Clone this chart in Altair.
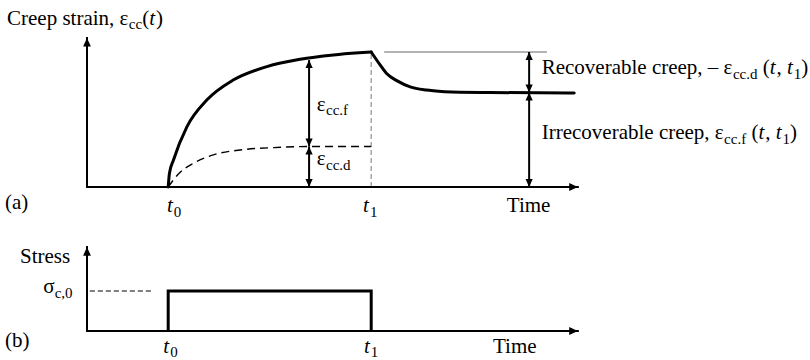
import altair as alt
import pandas as pd

# ---------------------------------------------------------------------------
# Values (time in arbitrary units, strain / stress in arbitrary units)
# ---------------------------------------------------------------------------
T0, T1 = 2.0, 7.0          # load applied at t0, removed at t1
T_AXIS_END = 12.09         # tip of the time-axis arrow
STRAIN_AXIS_TOP = 5.52     # tip of the strain-axis arrow
STRESS_AXIS_TOP = 2.1      # tip of the stress-axis arrow

# total creep strain while the stress is held (t0 -> t1)
load_t = [2.0, 2.03, 2.13, 2.46, 2.95, 3.60, 4.43, 5.25, 6.07, 6.7, 7.0]
load_v = [0.0, 0.5, 1.0, 2.23, 3.22, 3.96, 4.46, 4.73, 4.89, 4.97, 5.0]
# recovery after unloading (t > t1)
unload_t = [7.0, 7.22, 7.38, 7.63, 7.96, 8.37, 8.81, 9.93, 12.0]
unload_v = [5.0, 4.52, 4.20, 3.94, 3.71, 3.59, 3.53, 3.50, 3.48]
# delayed elastic (recoverable) component
delayed_t = [2.0, 2.27, 2.62, 3.11, 3.77, 4.59, 5.49, 7.0]
delayed_v = [0.0, 0.51, 0.88, 1.19, 1.37, 1.46, 1.50, 1.50]

EPS_T1 = 5.0       # total creep at t1
EPS_D = 1.5        # delayed (recoverable) creep
EPS_F = 3.5        # flow (irrecoverable) creep
ARROW_MID_T = 5.47     # position of the eps_cc.f / eps_cc.d dimension arrows
ARROW_MID_TOP = 4.7
ARROW_RIGHT_T = 10.89  # position of the recoverable / irrecoverable arrows
GUIDE_T = [7.32, 11.33]  # grey reference line at the peak level

# stress history
stress_t = [T0, T0, T1, T1]
stress_v = [0.0, 1.0, 1.0, 0.0]
SIGMA0 = 1.0
SIGMA_GUIDE_T = [0.07, 1.6]

# ---------------------------------------------------------------------------
# Scales: one time scale, one strain scale (upper diagram) and one stress
# scale (lower diagram), all spanning the whole canvas
# ---------------------------------------------------------------------------
W, H = 810, 360
PX_PER_T = 40.6
PX_A, ORIGIN_A = 27.0, 187   # strain: pixels per unit, baseline row
PX_B, ORIGIN_B = 40.0, 331   # stress: pixels per unit, baseline row

xs = alt.Scale(domain=[-87 / PX_PER_T, (W - 87) / PX_PER_T], nice=False, zero=False)
ys_a = alt.Scale(domain=[(ORIGIN_A - H) / PX_A, ORIGIN_A / PX_A], nice=False, zero=False)
ys_b = alt.Scale(domain=[(ORIGIN_B - H) / PX_B, ORIGIN_B / PX_B], nice=False, zero=False)

FONT = "Liberation Serif"
MAIN, SUB = 21, 15

# Approximate advance widths (em) for Liberation Serif
ADV = {
    "C": .667, "R": .667, "I": .333, "S": .556, "T": .611,
    "a": .444, "b": .5, "c": .444, "d": .5, "e": .444, "f": .333, "i": .278,
    "l": .278, "m": .778, "n": .5, "o": .5, "p": .5, "r": .333, "s": .389,
    "t": .278, "v": .5, " ": .25, ",": .25, ".": .25, "(": .333, ")": .333,
    "–": .5, "ε": .44, "σ": .55, "0": .5, "1": .5,
}


def width(s, size):
    return sum(ADV.get(ch, 0.5) for ch in s) * size


def rich(pieces, t, v, px_per_v, drop=5):
    """Lay out a label made of normal / italic / subscript pieces."""
    rows, x = [], 0.0
    for txt, kind in pieces:
        size = SUB if "s" in kind else MAIN
        lead = len(txt) - len(txt.lstrip(" "))
        rows.append(dict(
            t=t + (x + width(" " * lead, size)) / PX_PER_T,
            v=v - (drop / px_per_v if "s" in kind else 0.0),
            text=txt.strip(" "), size=size, italic="i" in kind,
        ))
        x += width(txt, size) + (1.0 if "i" in kind else 0.0)
    return rows


UP = "M0,0L-0.45,1L0.45,1Z"
DOWN = "M0,0L-0.45,-1L0.45,-1Z"
RIGHT = "M0,0L-1,-0.45L-1,0.45Z"


def shape_enc():
    return alt.Shape("dir:N", scale=alt.Scale(domain=["up", "down", "right"],
                                              range=[UP, DOWN, RIGHT]), legend=None)


def xy(scale_y):
    return dict(x=alt.X("t:Q", scale=xs, axis=None),
                y=alt.Y("v:Q", scale=scale_y, axis=None))


def rules(df, scale_y, **mark):
    return alt.Chart(df).mark_rule(**mark).encode(**xy(scale_y), x2="t2:Q", y2="v2:Q")


def heads(df, scale_y, size=256):
    return alt.Chart(df).mark_point(filled=True, size=size, color="black",
                                    opacity=1, strokeWidth=0).encode(
        **xy(scale_y), shape=shape_enc())


def texts(rows, scale_y):
    df = pd.DataFrame(rows)
    layers = []
    for it in (False, True):
        part = df[df["italic"] == it].drop(columns="italic")
        if len(part):
            layers.append(alt.Chart(part).mark_text(
                font=FONT, align="left", baseline="alphabetic", color="black",
                fontStyle="italic" if it else "normal").encode(
                **xy(scale_y), text="text:N", size=alt.Size("size:Q", scale=None)))
    return layers


# ---------------------------------------------------------------------------
# (a) creep strain
# ---------------------------------------------------------------------------
axes_a = pd.DataFrame({"t": [0, 0], "v": [0, 0], "t2": [0, T_AXIS_END],
                       "v2": [STRAIN_AXIS_TOP, 0]})
axis_heads_a = pd.DataFrame({"t": [0, T_AXIS_END], "v": [STRAIN_AXIS_TOP, 0],
                             "dir": ["up", "right"]})
t1_guide = pd.DataFrame({"t": [T1], "v": [0], "t2": [T1], "v2": [EPS_T1]})
peak_guide = pd.DataFrame({"t": [GUIDE_T[0]], "v": [EPS_T1],
                           "t2": [GUIDE_T[1]], "v2": [EPS_T1]})

creep = pd.DataFrame({
    "t": load_t + unload_t, "v": load_v + unload_v,
    "phase": ["load"] * len(load_t) + ["unload"] * len(unload_t)})
delayed = pd.DataFrame({"t": delayed_t, "v": delayed_v})

dims = pd.DataFrame({
    "t": [ARROW_MID_T, ARROW_MID_T, ARROW_RIGHT_T, ARROW_RIGHT_T],
    "v": [ARROW_MID_TOP, EPS_D, EPS_T1, EPS_F],
    "t2": [ARROW_MID_T, ARROW_MID_T, ARROW_RIGHT_T, ARROW_RIGHT_T],
    "v2": [EPS_D, 0, EPS_F, 0]})
dim_heads = pd.DataFrame({
    "t": [ARROW_MID_T] * 4 + [ARROW_RIGHT_T] * 4,
    "v": [ARROW_MID_TOP, EPS_D, EPS_D, 0, EPS_T1, EPS_F, EPS_F, 0],
    "dir": ["up", "down", "up", "down"] * 2})

labels_a = (
    rich([("Creep strain, ε", "n"), ("cc", "s"), ("(", "n"), ("t", "i"), (")", "n")],
         -1.97, 6.0, PX_A, drop=4)
    + rich([("ε", "n"), ("cc.f", "s")], 5.66, 2.81, PX_A, drop=4)
    + rich([("ε", "n"), ("cc.d", "s")], 5.66, 0.81, PX_A, drop=5)
    + rich([("Recoverable creep, – ε", "n"), ("cc.d", "s"), (" (", "n"), ("t", "i"),
            (", ", "n"), ("t", "i"), ("1", "s"), (")", "n")], 11.2, 4.19, PX_A)
    + rich([("Irrecoverable creep, ε", "n"), ("cc.f", "s"), (" (", "n"), ("t", "i"),
            (", ", "n"), ("t", "i"), ("1", "s"), (")", "n")], 11.2, 1.78, PX_A)
    + rich([("(a)", "n")], -2.02, -0.81, PX_A)
    + rich([("t", "i"), ("0", "s")], T0 - 0.03, -0.915, PX_A)
    + rich([("t", "i"), ("1", "s")], T1 - 0.2, -0.915, PX_A)
    + rich([("Time", "n")], 10.34, -0.915, PX_A)
)

layers_a = [
    rules(t1_guide, ys_a, color="#9a9a9a", strokeWidth=1.3, strokeDash=[5, 3]),
    rules(peak_guide, ys_a, color="#9a9a9a", strokeWidth=1.5),
    alt.Chart(delayed).mark_line(interpolate="monotone", color="black",
                                 strokeWidth=1.4, strokeDash=[8, 5]).encode(**xy(ys_a)),
    alt.Chart(creep).mark_line(interpolate="monotone", color="black", strokeWidth=3,
                               strokeCap="round").encode(**xy(ys_a), detail="phase:N"),
    rules(axes_a, ys_a, color="black", strokeWidth=2, strokeCap="square"),
    heads(axis_heads_a, ys_a, size=300),
    rules(dims, ys_a, color="black", strokeWidth=2),
    heads(dim_heads, ys_a),
    *texts(labels_a, ys_a),
]

# ---------------------------------------------------------------------------
# (b) stress history
# ---------------------------------------------------------------------------
axes_b = pd.DataFrame({"t": [0, 0], "v": [0, 0], "t2": [0, T_AXIS_END],
                       "v2": [STRESS_AXIS_TOP, 0]})
axis_heads_b = pd.DataFrame({"t": [0, T_AXIS_END], "v": [STRESS_AXIS_TOP, 0],
                             "dir": ["up", "right"]})
stress = pd.DataFrame({"t": stress_t, "v": stress_v, "i": range(len(stress_t))})
sigma_guide = pd.DataFrame({"t": [SIGMA_GUIDE_T[0]], "v": [SIGMA0],
                            "t2": [SIGMA_GUIDE_T[1]], "v2": [SIGMA0]})

labels_b = (
    rich([("Stress", "n")], -1.65, 1.7, PX_B)
    + rich([("σ", "n"), ("c,0", "s")], -1.08, 0.95, PX_B)
    + rich([("(b)", "n")], -2.02, -0.4, PX_B)
    + rich([("t", "i"), ("0", "s")], T0 - 0.12, -0.55, PX_B, drop=4)
    + rich([("t", "i"), ("1", "s")], T1 - 0.18, -0.55, PX_B, drop=4)
    + rich([("Time", "n")], 10.0, -0.55, PX_B)
)

layers_b = [
    rules(sigma_guide, ys_b, color="black", strokeWidth=1.2, strokeDash=[5, 3]),
    alt.Chart(stress).mark_line(color="black", strokeWidth=3, strokeJoin="miter").encode(
        **xy(ys_b), order="i:Q"),
    rules(axes_b, ys_b, color="black", strokeWidth=2, strokeCap="square"),
    heads(axis_heads_b, ys_b, size=300),
    *texts(labels_b, ys_b),
]

chart = alt.layer(*layers_a, *layers_b).resolve_scale(
    y="independent", shape="independent", size="independent"
).properties(
    width=W, height=H, padding=0,
    autosize=alt.AutoSizeParams(type="none"), background="white"
).configure_view(stroke=None)

chart.save("out.html", embed_options={"renderer": "svg", "actions": False})
